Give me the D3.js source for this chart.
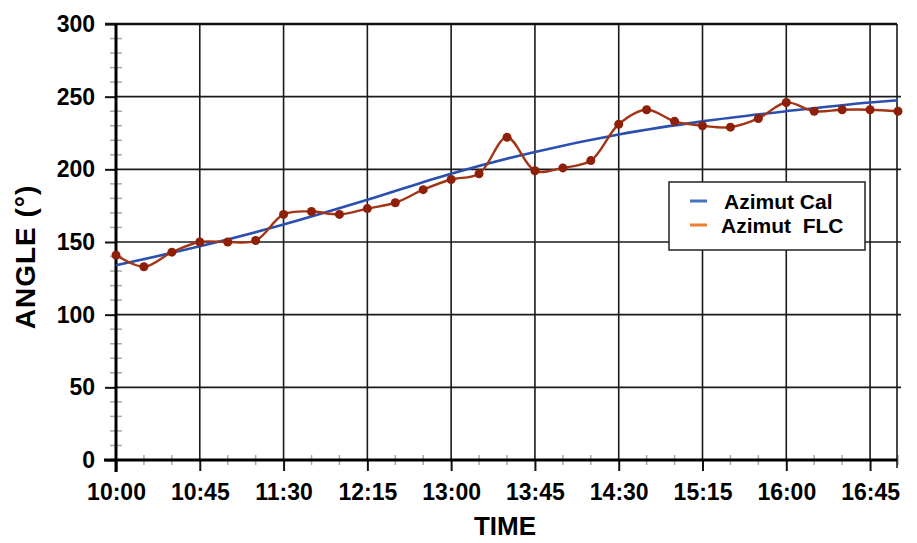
<!DOCTYPE html>
<html>
<head>
<meta charset="utf-8">
<script src="https://cdn.jsdelivr.net/npm/d3@7"></script>
<style>
  html, body { margin: 0; padding: 0; background: #fff; }
  svg { display: block; }
  text { font-family: Arial, "Liberation Sans", sans-serif; font-weight: bold; fill: #000; }
</style>
</head>
<body>
<svg id="chart" width="917" height="543"></svg>
<script>
// Time axis labels (every 45 minutes)
const xTickLabels = ["10:00", "10:45", "11:30", "12:15", "13:00", "13:45", "14:30", "15:15", "16:00", "16:45"];
const yTickValues = [0, 50, 100, 150, 200, 250, 300];

// Measured azimuth (FLC), sampled every 15 minutes
const flcTimes = ["10:00", "10:15", "10:30", "10:45", "11:00", "11:15", "11:30", "11:45", "12:00", "12:15",
                  "12:30", "12:45", "13:00", "13:15", "13:30", "13:45", "14:00", "14:15", "14:30", "14:45",
                  "15:00", "15:15", "15:30", "15:45", "16:00", "16:15", "16:30", "16:45", "17:00"];
const flcValues = [141, 133, 143, 150, 150, 151, 169, 171, 169, 173,
                   177, 186, 193, 197, 222, 199, 201, 206, 231, 241,
                   233, 230, 229, 235, 246, 240, 241, 241, 240];

// Calculated azimuth
const calTimes = ["10:00", "10:45", "11:30", "12:15", "13:00", "13:45", "14:30", "15:15", "16:00", "16:45", "17:00"];
const calValues = [134, 147, 162, 179, 197, 212, 224, 233, 240, 246, 247.5];

const seriesNames = ["Azimut Cal", "Azimut  FLC"];
const legendColors = ["#4472c4", "#ed7d31"];

// minutes elapsed since 10:00
const toMin = s => { const [h, m] = s.split(":").map(Number); return (h - 10) * 60 + m; };

const svg = d3.select("#chart");
const plotL = 116, plotR = 898, plotT = 24, plotB = 460;

const x = d3.scaleLinear().domain([0, 420]).range([plotL, plotR]);
const y = d3.scaleLinear().domain([0, 300]).range([plotB, plotT]);

const xTickValues = xTickLabels.map(toMin);
const xMinor = d3.range(0, 421, 15).filter(m => m % 45 !== 0);
const yMinor = d3.range(0, 301, 10).filter(v => v % 50 !== 0);

// minor ticks
svg.append("g").selectAll("line").data(xMinor).join("line")
  .attr("x1", d => x(d)).attr("x2", d => x(d))
  .attr("y1", plotB - 5).attr("y2", plotB + 5)
  .attr("stroke", "#aaa").attr("stroke-width", 1.5);
svg.append("g").selectAll("line").data(yMinor).join("line")
  .attr("x1", plotL - 6).attr("x2", plotL + 6)
  .attr("y1", d => y(d)).attr("y2", d => y(d))
  .attr("stroke", "#aaa").attr("stroke-width", 1.5);

// grid
const grid = svg.append("g").attr("stroke", "#1a1a1a").attr("stroke-width", 1.6);
grid.selectAll("line.v").data(xTickValues.slice(1)).join("line").attr("class", "v")
  .attr("x1", d => x(d)).attr("x2", d => x(d))
  .attr("y1", plotT).attr("y2", plotB);
grid.selectAll("line.h").data(yTickValues.slice(1, -1)).join("line").attr("class", "h")
  .attr("x1", plotL).attr("x2", 901)
  .attr("y1", d => y(d)).attr("y2", d => y(d));
// right border
grid.append("line").attr("x1", 897).attr("x2", 897).attr("y1", plotT).attr("y2", plotB + 8);
// top border
svg.append("line").attr("x1", plotL - 11).attr("x2", 897).attr("y1", plotT).attr("y2", plotT)
  .attr("stroke", "#111").attr("stroke-width", 2.6);

// axes
const tickFont = "Arial, 'Liberation Sans', sans-serif";
const xAxis = svg.append("g").attr("transform", `translate(0,${plotB})`)
  .call(d3.axisBottom(x).tickValues(xTickValues).tickFormat((d, i) => xTickLabels[i])
        .tickSize(11).tickPadding(13));
xAxis.select(".domain").remove();
xAxis.selectAll(".tick line").attr("stroke", "#111").attr("stroke-width", 2);
xAxis.selectAll(".tick text").style("font-size", "23px").style("font-family", tickFont);

const yAxis = svg.append("g").attr("transform", `translate(${plotL},0)`)
  .call(d3.axisLeft(y).tickValues(yTickValues).tickSize(11).tickPadding(10));
yAxis.select(".domain").remove();
yAxis.selectAll(".tick line").attr("stroke", "#111").attr("stroke-width", 2);
yAxis.selectAll(".tick text").style("font-size", "23px").style("font-family", tickFont);

// main axis lines
svg.append("line").attr("x1", plotL).attr("x2", plotL).attr("y1", plotT).attr("y2", plotB + 12)
  .attr("stroke", "#000").attr("stroke-width", 3);
svg.append("line").attr("x1", plotL - 12).attr("x2", 897).attr("y1", plotB).attr("y2", plotB)
  .attr("stroke", "#000").attr("stroke-width", 3);

// Calculated azimuth curve
const calData = calTimes.map((t, i) => [toMin(t), calValues[i]]);
svg.append("path").datum(calData)
  .attr("fill", "none").attr("stroke", "#2a4fae").attr("stroke-width", 2.6)
  .attr("d", d3.line().x(d => x(d[0])).y(d => y(d[1])).curve(d3.curveMonotoneX));

// Measured azimuth curve with markers
const flcData = flcTimes.map((t, i) => [toMin(t), flcValues[i]]);
svg.append("path").datum(flcData)
  .attr("fill", "none").attr("stroke", "#a33516").attr("stroke-width", 2.4)
  .attr("d", d3.line().x(d => x(d[0])).y(d => y(d[1])).curve(d3.curveCatmullRom.alpha(0.5)));
svg.append("g").selectAll("circle").data(flcData).join("circle")
  .attr("cx", d => x(d[0])).attr("cy", d => y(d[1])).attr("r", 4.5)
  .attr("fill", "#8e1f08");

// legend
const lg = svg.append("g");
lg.append("rect").attr("x", 669).attr("y", 182).attr("width", 196).attr("height", 68)
  .attr("fill", "#fff").attr("stroke", "#222").attr("stroke-width", 1.5);
const legendY = [201, 225];
const legendTextX = [724, 721];
seriesNames.forEach((name, i) => {
  lg.append("line").attr("x1", 690).attr("x2", 707).attr("y1", legendY[i]).attr("y2", legendY[i])
    .attr("stroke", legendColors[i]).attr("stroke-width", 3);
  lg.append("text").attr("x", legendTextX[i]).attr("y", legendY[i] + 8)
    .attr("xml:space", "preserve").style("white-space", "pre")
    .style("font-size", "21px").text(name);
});

// axis titles
svg.append("text").attr("x", 505).attr("y", 535).attr("text-anchor", "middle")
  .style("font-size", "26px").text("TIME");
svg.append("text").attr("transform", "translate(35,257) rotate(-90)").attr("text-anchor", "middle")
  .style("font-size", "28px").style("letter-spacing", "1px").text("ANGLE (°)");
</script>
</body>
</html>
